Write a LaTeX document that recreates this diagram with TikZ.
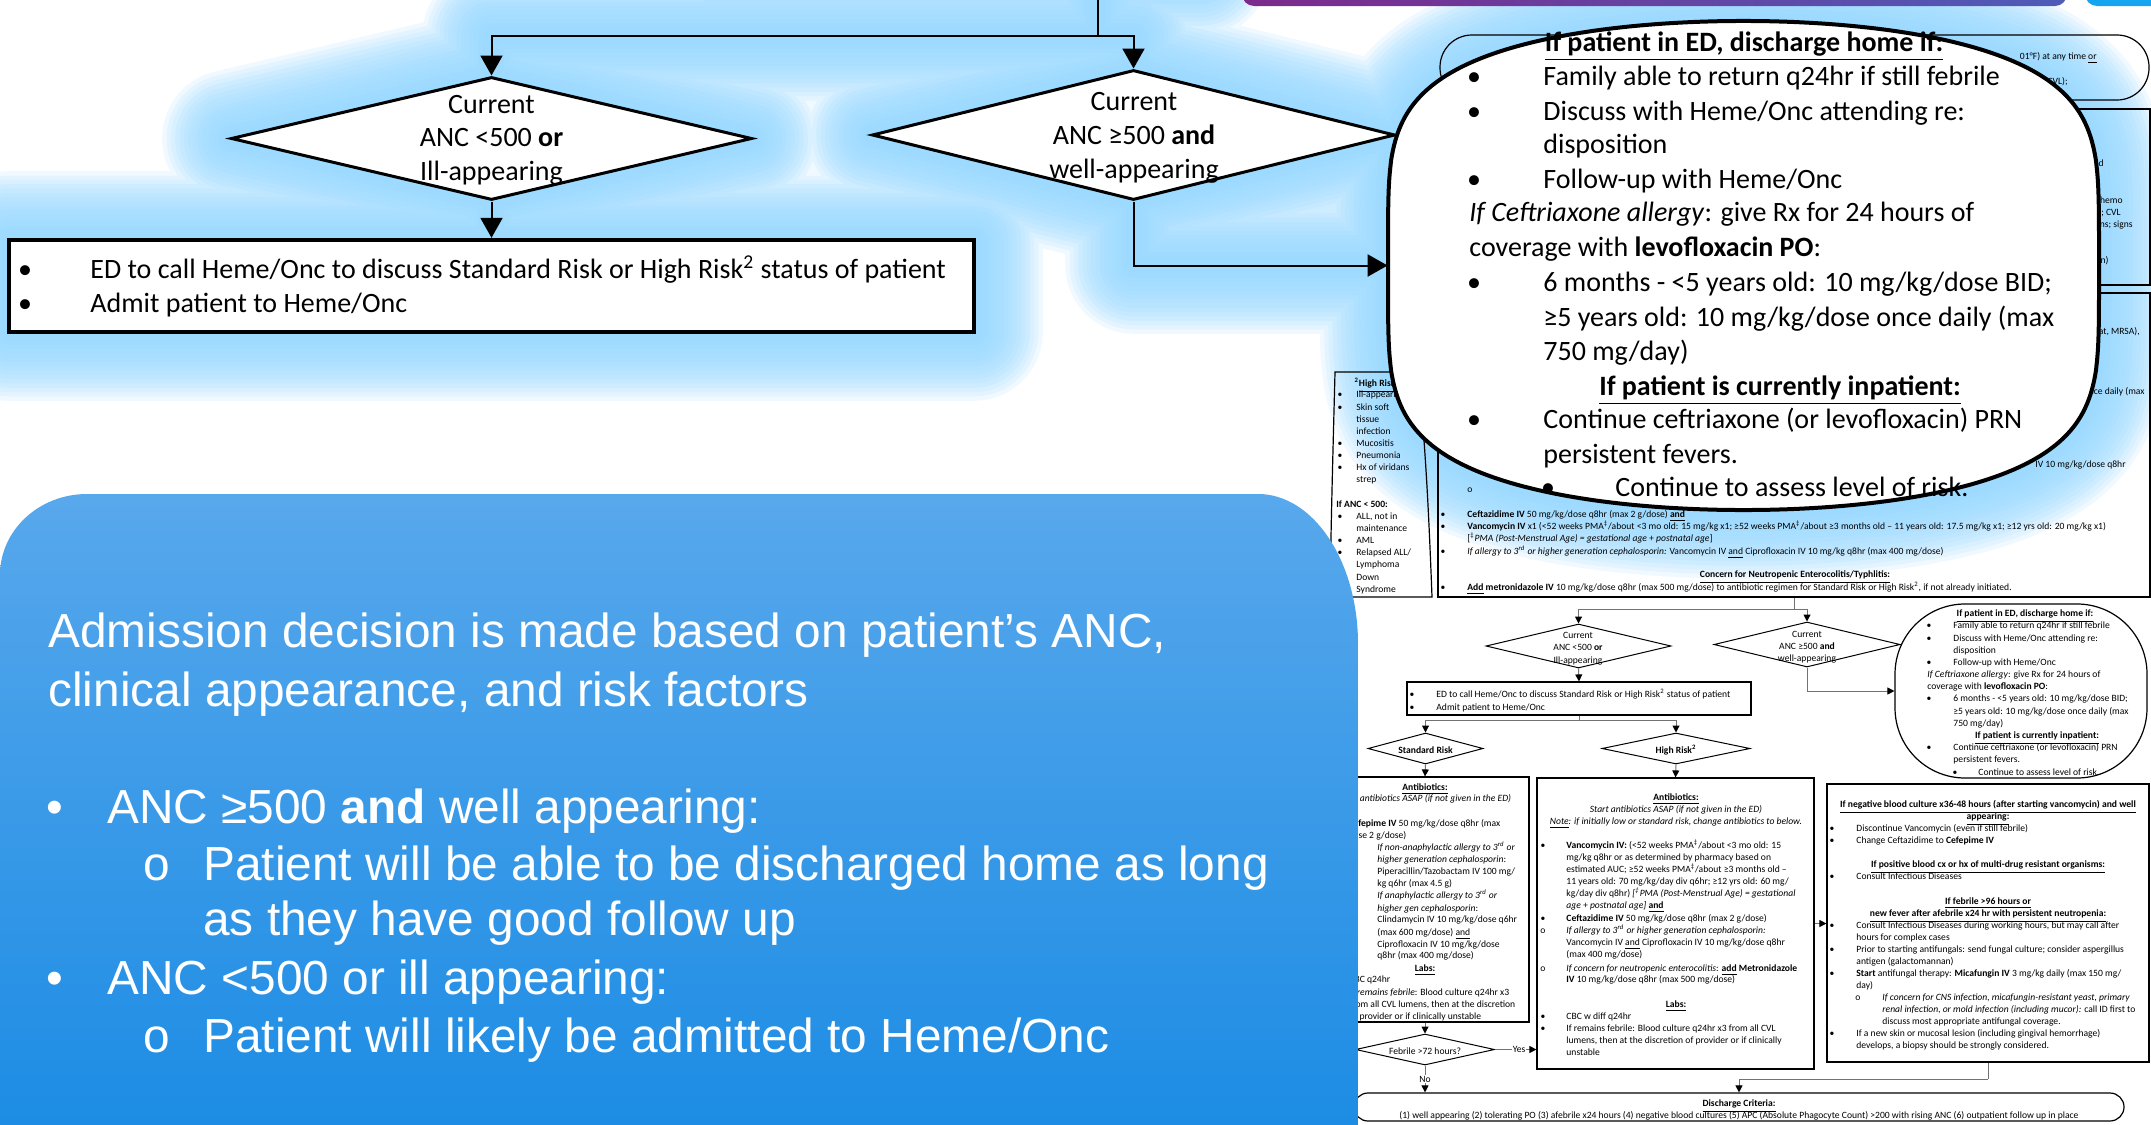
\documentclass[tikz,border=0pt]{standalone}
\usepackage{fontspec}
\setmainfont{Carlito}
\newfontfamily\arialf{Liberation Sans}
\usetikzlibrary{arrows.meta,shapes.geometric,calc}
\definecolor{gl}{RGB}{150,218,255}
\definecolor{bbTop}{RGB}{88,168,236}
\definecolor{bbMid}{RGB}{36,152,240}
\definecolor{bbBot}{RGB}{28,140,228}
\definecolor{barL}{RGB}{124,42,140}
\definecolor{barR}{RGB}{78,92,184}
\definecolor{cyanbar}{RGB}{20,165,240}
\newcounter{tn}
\newcommand\T[3]{\stepcounter{tn}\node[#1] (t\arabic{tn}) at (#2) {#3};}
\newcommand\GE{\iffontchar\font"2265 ≥\else{\arialf ≥}\fi}
\newcommand\DD{\iffontchar\font"2021 ‡\else{\arialf ‡}\fi}
\tikzset{
 bt/.style={inner sep=0pt, anchor=mid west, yshift=-2pt, font=\fontsize{14}{17}\selectfont},
 btc/.style={bt, anchor=mid},
 st/.style={inner sep=0pt, anchor=mid west, font=\fontsize{4.8}{6}\selectfont},
 stc/.style={st, anchor=mid},
 ste/.style={st, anchor=mid east},
 wt/.style={inner sep=0pt, anchor=mid west, yshift=-6pt, text=white, font=\arialf\fontsize{23.9}{28}\selectfont},
 wtc/.style={wt, anchor=mid},
 bigline/.style={line width=1pt, draw=black},
 bigarr/.style={bigline, -{Triangle[length=10pt,width=11pt]}},
 sline/.style={line width=0.5pt, draw=black!55},
 sarr/.style={sline, -{Triangle[length=3.5pt,width=3.5pt,color=black]}},
 bigdia/.style={diamond, draw, line width=1.5pt, fill=white, inner sep=0pt},
 sdia/.style={diamond, draw, line width=0.5pt, inner sep=0pt},
 pbox/.style={rectangle, draw, line width=0.6pt, inner sep=0pt},
}
\begin{document}
\begin{tikzpicture}[x=0.5pt,y=-0.5pt]
\useasboundingbox (0,0) rectangle (2151,1124);
\clip (0,0) rectangle (2151,1124);
\fill[white] (0,0) rectangle (2151,1124);

% ---------- glow ----------
\foreach \i in {1,...,16}{
 \pgfmathsetmacro\gw{4.3*\i}
 \draw[gl, line width=\gw pt, opacity=0.14, line join=round, line cap=round]
   (720,-30) -- (1200,-30)
   (1098,0) -- (1098,36) (491,36) -- (1134,36) (491,36) -- (491,77) (1134,36) -- (1134,70)
   (491.5,77) -- (752,138.5) -- (491.5,200) -- (231,138.5) -- cycle
   (1133.5,70) -- (1395,135) -- (1133.5,200) -- (872,135) -- cycle
   (491,200) -- (491,240)
   (9,240) rectangle (974,332)
   (1134,200) -- (1134,265) -- (1388,265)
   plot[domain=0.5:359.5, samples=120] ({1743.5+355.5*sign(cos(\x))*abs(cos(\x))}, {265.5+244.5*sign(sin(\x))*abs(sin(\x))^(0.42)}) -- cycle;
}

% ---------- background page ----------
\node[pbox, rounded corners=16pt, minimum width=354.5pt, minimum height=32.5pt] (B1) at (1794.5,67.5) {};
\node[pbox, minimum width=356pt, minimum height=88pt] (B2) at (1794,197) {};
\node[pbox, minimum width=356pt, minimum height=152pt] (B3) at (1794,445) {};
\draw[line width=0.6pt] (1335,372) -- (1418,372) .. controls (1426,450) and (1429,520) .. (1432,597) -- (1330,597) .. controls (1331,520) and (1333,450) .. (1335,372) -- cycle;

\T{ste}{2097,55}{01°F) at any time \underline{or}}
\T{ste}{2068,80}{(CVL);}
\T{ste}{2104,162}{blood}
\T{ste}{2123,199}{chemo}
\T{ste}{2121,211}{is; CVL}
\T{ste}{2133,223}{ns; signs}
\T{ste}{2109,259}{n)}
\T{ste}{2140,330}{eat, MRSA),}
\T{ste}{2145,390}{e once daily (max}
\T{ste}{2126,463}{IV 10 mg/kg/dose q8hr}

\T{stc}{1470,488}{o}
\T{stc}{1443,513}{\textbullet}
\T{stc}{1443,525}{\textbullet}
\T{stc}{1443,550}{\textbullet}
\T{stc}{1443,586}{\textbullet}
\T{st}{1467,513}{\textbf{Ceftazidime IV} 50 mg/kg/dose q8hr (max 2 g/dose) \textbf{\underline{and}}}
\T{st}{1467,525}{\textbf{Vancomycin IV} x1 (<52 weeks PMA\textsuperscript{\DD}/about <3 mo old: 15 mg/kg x1; \GE52 weeks PMA\textsuperscript{\DD}/about \GE3 months old – 11 years old: 17.5 mg/kg x1; \GE12 yrs old: 20 mg/kg x1)}
\T{st}{1467,537}{[\textsuperscript{\DD}\textit{PMA (Post-Menstrual Age) = gestational age + postnatal age}]}
\T{st}{1467,550}{\textit{If allergy to 3\textsuperscript{rd} or higher generation cephalosporin:} Vancomycin IV \underline{and} Ciprofloxacin IV 10 mg/kg q8hr (max 400 mg/dose)}
\T{stc}{1795,573}{\textbf{\underline{Concern for Neutropenic Enterocolitis/Typhlitis:}}}
\T{st}{1467,586}{\textbf{\underline{Add} metronidazole IV} 10 mg/kg/dose q8hr (max 500 mg/dose) to antibiotic regimen for Standard Risk or High Risk\textsuperscript{2}, if not already initiated.}

% high risk note
\T{stc}{1375,382}{\textbf{\textsuperscript{2}\underline{High Risk}}}
\foreach \yy in {393,406,442,454,466,515,539,551,576}{\T{stc}{1340,\yy}{\textbullet}}
\T{st}{1356,393}{Ill-appearing}
\T{st}{1356,406}{Skin soft}
\T{st}{1356,418}{tissue}
\T{st}{1356,430}{infection}
\T{st}{1356,442}{Mucositis}
\T{st}{1356,454}{Pneumonia}
\T{st}{1356,466}{Hx of viridans}
\T{st}{1356,478}{strep}
\T{st}{1336,503}{\textbf{If ANC < 500:}}
\T{st}{1356,515}{ALL, not in}
\T{st}{1356,527}{maintenance}
\T{st}{1356,539}{AML}
\T{st}{1356,551}{Relapsed ALL/}
\T{st}{1356,563}{Lymphoma}
\T{st}{1356,576}{Down}
\T{st}{1356,588}{Syndrome}

% small flowchart nodes
\node[sdia, minimum width=92.5pt, minimum height=22pt] (SD1) at (1578.5,646) {};
\node[sdia, minimum width=93pt, minimum height=22.5pt] (SD2) at (1807,644.5) {};
\node[pbox, minimum width=172pt, minimum height=16.5pt] (SEB) at (1579,698.5) {};
\node[pbox, rounded corners=35pt, minimum width=126pt, minimum height=87pt] (SC) at (2021,691) {};
\node[sdia, minimum width=57.5pt, minimum height=15.5pt] (SR) at (1425.5,748.5) {};
\node[sdia, minimum width=74pt, minimum height=15.5pt] (HR) at (1676,748.5) {};
\node[pbox, minimum width=104pt, minimum height=122.5pt] (SB) at (1425,899.5) {};
\node[pbox, minimum width=138.5pt, minimum height=145.5pt] (HB) at (1675.5,923.5) {};
\node[pbox, minimum width=161pt, minimum height=139pt] (RB) at (1988,923) {};
\node[sdia, minimum width=69.5pt, minimum height=15.5pt] (FD) at (1425,1049.5) {};
\node[pbox, rounded corners=7pt, minimum width=385pt, minimum height=14pt] (DC) at (1739,1107) {};

\coordinate (j1) at (1794,609);
\coordinate (j2) at (1579,720);
\coordinate (j3) at (1988,1079);
\draw[sline] (B3.south) -- (j1);
\draw[sarr] (j1) -| (SD1.north);
\draw[sarr] (j1) -| (SD2.north);
\draw[sarr] (SD1.south) -- (SEB.north);
\draw[sarr] (SD2.south) |- (SC.west);
\draw[sline] (SEB.south) -- (j2);
\draw[sarr] (j2) -| (SR.north);
\draw[sarr] (j2) -| (HR.north);
\draw[sarr] (SR.south) -- (SB.north);
\draw[sarr] (HR.south) -- (HB.north);
\draw[sarr] (SB.south) -- (FD.north);
\draw[sarr] (FD.east) -- (FD.east -| HB.west) node[pos=0.58, fill=white, inner sep=0.5pt, font=\fontsize{4.8}{6}\selectfont] (yes) {Yes};
\draw[sarr] (FD.south) -- (FD.south |- DC.north) node[pos=0.5, fill=white, inner sep=0.5pt, font=\fontsize{4.8}{6}\selectfont] (no) {No};
\draw[sarr] (HB.east) -- (HB.east -| RB.west);
\draw[sline] (RB.south) -- (j3);
\draw[sarr] (j3) -| (DC.north);

% small diamonds text
\T{stc}{1578,634}{Current}
\T{stc}{1578,646}{ANC <500 \textbf{or}}
\T{stc}{1578,659}{Ill-appearing}
\T{stc}{1807,633}{Current}
\T{stc}{1807,645}{ANC \GE500 \textbf{and}}
\T{stc}{1807,657}{well-appearing}
\T{stc}{1412,693}{\textbullet}
\T{stc}{1412,706}{\textbullet}
\T{st}{1436,693}{ED to call Heme/Onc to discuss Standard Risk or High Risk\textsuperscript{2} status of patient}
\T{st}{1436,706}{Admit patient to Heme/Onc}
\T{stc}{1425.5,748.5}{\textbf{Standard Risk}}
\T{stc}{1676,748.5}{\textbf{High Risk\textsuperscript{2}}}
\T{stc}{1425,1049.5}{Febrile >72 hours?}

% small circle text
\T{stc}{2025,612}{\textbf{\underline{If patient in ED, discharge home if:}}}
\foreach \yy in {624,637,661,697,746}{\T{stc}{1929,\yy}{\textbullet}}
\T{st}{1953,624}{Family able to return q24hr if still febrile}
\T{st}{1953,637}{Discuss with Heme/Onc attending re:}
\T{st}{1953,649}{disposition}
\T{st}{1953,661}{Follow-up with Heme/Onc}
\T{st}{1927,673}{\textit{If Ceftriaxone allergy}: give Rx for 24 hours of}
\T{st}{1927,685}{coverage with \textbf{levofloxacin PO}:}
\T{st}{1953,697}{6 months - <5 years old: 10 mg/kg/dose BID;}
\T{st}{1953,710}{\GE5 years old: 10 mg/kg/dose once daily (max}
\T{st}{1953,722}{750 mg/day)}
\T{stc}{2037,734}{\textbf{\underline{If patient is currently inpatient:}}}
\T{st}{1953,746}{Continue ceftriaxone (or levofloxacin) PRN}
\T{st}{1953,758}{persistent fevers.}
\T{stc}{1955,771}{\textbullet}
\T{st}{1978,771}{Continue to assess level of risk.}

% standard box text
\T{stc}{1425,786}{\textbf{\underline{Antibiotics:}}}
\T{stc}{1425,797}{\textit{Start antibiotics ASAP (if not given in the ED)}}
\T{st}{1348,822}{\textbf{Cefepime IV} 50 mg/kg/dose q8hr (max}
\T{st}{1348,834}{dose 2 g/dose)}
\T{st}{1377,846}{\textit{If non-anaphylactic allergy to 3\textsuperscript{rd} or}}
\T{st}{1377,858}{\textit{higher generation cephalosporin}:}
\T{st}{1377,870}{Piperacillin/Tazobactam IV 100 mg/}
\T{st}{1377,882}{kg q6hr (max 4.5 g)}
\T{st}{1377,894}{\textit{If anaphylactic allergy to 3\textsuperscript{rd} or}}
\T{st}{1377,907}{\textit{higher gen cephalosporin}:}
\T{st}{1377,918}{Clindamycin IV 10 mg/kg/dose q6hr}
\T{st}{1377,931}{(max 600 mg/dose) \underline{and}}
\T{st}{1377,943}{Ciprofloxacin IV 10 mg/kg/dose}
\T{st}{1377,954}{q8hr (max 400 mg/dose)}
\T{stc}{1425,967}{\textbf{\underline{Labs:}}}
\T{st}{1349,978}{CBC q24hr}
\T{st}{1349,991}{\textit{If remains febrile}: Blood culture q24hr x3}
\T{st}{1349,1003}{from all CVL lumens, then at the discretion}
\T{st}{1349,1015}{of provider or if clinically unstable}

% high risk box text
\T{stc}{1676,796}{\textbf{\underline{Antibiotics:}}}
\T{stc}{1676,808}{\textit{Start antibiotics ASAP (if not given in the ED)}}
\T{stc}{1676,820}{\textit{\underline{Note}: if initially low or standard risk, change antibiotics to below.}}
\foreach \yy in {844,917,1015,1027}{\T{stc}{1543,\yy}{\textbullet}}
\T{stc}{1543,929}{o}
\T{stc}{1543,967}{o}
\T{st}{1566,844}{\textbf{Vancomycin IV:} (<52 weeks PMA\textsuperscript{\DD}/about <3 mo old: 15}
\T{st}{1566,856}{mg/kg q8hr or as determined by pharmacy based on}
\T{st}{1566,868}{estimated AUC; \GE52 weeks PMA\textsuperscript{\DD}/about \GE3 months old –}
\T{st}{1566,880}{11 years old: 70 mg/kg/day div q6hr; \GE12 yrs old: 60 mg/}
\T{st}{1566,892}{kg/day div q8hr) \textit{[\textsuperscript{\DD}PMA (Post-Menstrual Age) = gestational}}
\T{st}{1566,904}{\textit{age + postnatal age]} \textbf{\underline{and}}}
\T{st}{1566,917}{\textbf{Ceftazidime IV} 50 mg/kg/dose q8hr (max 2 g/dose)}
\T{st}{1566,929}{\textit{If allergy to 3\textsuperscript{rd} or higher generation cephalosporin:}}
\T{st}{1566,941}{Vancomycin IV \underline{and} Ciprofloxacin IV 10 mg/kg/dose q8hr}
\T{st}{1566,953}{(max 400 mg/dose)}
\T{st}{1566,967}{\textit{If concern for neutropenic enterocolitis}: \textbf{\underline{add} Metronidazole}}
\T{st}{1566,978}{\textbf{IV} 10 mg/kg/dose q8hr (max 500 mg/dose)}
\T{stc}{1676,1003}{\textbf{\underline{Labs:}}}
\T{st}{1566,1015}{CBC w diff q24hr}
\T{st}{1566,1027}{If remains febrile: Blood culture q24hr x3 from all CVL}
\T{st}{1566,1039}{lumens, then at the discretion of provider or if clinically}
\T{st}{1566,1051}{unstable}

% right box text
\T{stc}{1988,803}{\textbf{\underline{If negative blood culture x36-48 hours (after starting vancomycin) and well}}}
\T{stc}{1988,815}{\textbf{\underline{appearing:}}}
\foreach \yy in {827,839,875,924,948,972,1032}{\T{stc}{1832,\yy}{\textbullet}}
\T{stc}{1858,996}{o}
\T{st}{1856,827}{Discontinue Vancomycin (even if still febrile)}
\T{st}{1856,839}{Change Ceftazidime to \textbf{Cefepime IV}}
\T{stc}{1988,863}{\textbf{\underline{If positive blood cx or hx of multi-drug resistant organisms:}}}
\T{st}{1856,875}{Consult Infectious Diseases}
\T{stc}{1988,900}{\textbf{\underline{If febrile >96 hours or}}}
\T{stc}{1988,912}{\textbf{\underline{new fever after afebrile x24 hr with persistent neutropenia:}}}
\T{st}{1856,924}{Consult Infectious Diseases during working hours, but may call after}
\T{st}{1856,936}{hours for complex cases}
\T{st}{1856,948}{Prior to starting antifungals: send fungal culture; consider aspergillus}
\T{st}{1856,960}{antigen (galactomannan)}
\T{st}{1856,972}{\textbf{Start} antifungal therapy: \textbf{Micafungin IV} 3 mg/kg daily (max 150 mg/}
\T{st}{1856,984}{day)}
\T{st}{1882,996}{\textit{If concern for CNS infection, micafungin-resistant yeast, primary}}
\T{st}{1882,1008}{\textit{renal infection, or mold infection (including mucor):} call ID first to}
\T{st}{1882,1020}{discuss most appropriate antifungal coverage.}
\T{st}{1856,1032}{If a new skin or mucosal lesion (including gingival hemorrhage)}
\T{st}{1856,1044}{develops, a biopsy should be strongly considered.}

% discharge criteria
\T{stc}{1739,1102}{\textbf{\underline{Discharge Criteria:}}}
\T{stc}{1739,1114}{(1) well appearing (2) tolerating PO (3) afebrile x24 hours (4) negative blood cultures (5) APC (Absolute Phagocyte Count) >200 with rising ANC (6) outpatient follow up in place}

% ---------- foreground big flowchart ----------
\node[bigdia, minimum width=260.5pt, minimum height=61.5pt] (D1) at (491.5,138.5) {};
\node[bigdia, minimum width=261.5pt, minimum height=65pt] (D2) at (1133.5,135) {};
\node[rectangle, draw, fill=white, line width=2.2pt, inner sep=0pt, minimum width=482.5pt, minimum height=46pt] (EDB) at (491.5,286) {};
\node[rectangle, inner sep=0pt, minimum width=355.5pt, minimum height=244.5pt] (C1) at (1743.5,265.5) {};
\draw[fill=white, line width=2pt, line join=round]
  plot[domain=0.5:359.5, samples=360] ({1743.5+355.5*sign(cos(\x))*abs(cos(\x))}, {265.5+244.5*sign(sin(\x))*abs(sin(\x))^(0.42)}) -- cycle;
\coordinate (topin) at (1098,0);
\coordinate (split) at (1098,36);
\draw[bigline] (topin) -- (split);
\draw[bigarr] (split) -| (D1.north);
\draw[bigarr] (split) -| (D2.north);
\draw[bigarr] (D1.south) -- (EDB.north);
\draw[bigarr] (D2.south) |- (C1.west);

\T{btc}{491.5,105}{Current}
\T{btc}{491.5,138}{ANC <500 \textbf{or}}
\T{btc}{491.5,172}{Ill-appearing}
\T{btc}{1134,102}{Current}
\T{btc}{1134,136}{ANC \GE500 \textbf{and}}
\T{btc}{1134,170}{well-appearing}
\T{btc}{25,270}{\textbullet}
\T{btc}{25,304}{\textbullet}
\T{bt}{90,270}{ED to call Heme/Onc to discuss Standard Risk or High Risk\textsuperscript{2} status of patient}
\T{bt}{90,304}{Admit patient to Heme/Onc}

\T{btc}{1744,43}{\textbf{\underline{If patient in ED, discharge home if:}}}
\foreach \yy in {77,112,180,283,420}{\T{btc}{1474,\yy}{\textbullet}}
\T{bt}{1543,77}{Family able to return q24hr if still febrile}
\T{bt}{1543,112}{Discuss with Heme/Onc attending re:}
\T{bt}{1543,145}{disposition}
\T{bt}{1543,180}{Follow-up with Heme/Onc}
\T{bt}{1469,213}{\textit{If Ceftriaxone allergy}: give Rx for 24 hours of}
\T{bt}{1469,248}{coverage with \textbf{levofloxacin PO}:}
\T{bt}{1543,283}{6 months - <5 years old: 10 mg/kg/dose BID;}
\T{bt}{1543,318}{\GE5 years old: 10 mg/kg/dose once daily (max}
\T{bt}{1543,352}{750 mg/day)}
\T{btc}{1780,387}{\textbf{\underline{If patient is currently inpatient:}}}
\T{bt}{1543,420}{Continue ceftriaxone (or levofloxacin) PRN}
\T{bt}{1543,455}{persistent fevers.}
\T{btc}{1548,488}{\textbullet}
\T{bt}{1615,488}{Continue to assess level of risk.}

% ---------- blue box ----------
\shade[top color=bbTop, middle color=bbMid, bottom color=bbBot]
  (0,1130) -- (0,575) arc[start angle=180, end angle=270, x radius=87, y radius=81]
  -- (1258,494) arc[start angle=270, end angle=360, x radius=100, y radius=150]
  -- (1358,1130) -- cycle;
\T{wt}{48,631}{Admission decision is made based on patient’s ANC,}
\T{wt}{48,690}{clinical appearance, and risk factors}
\T{wtc}{55,807}{\textbullet}
\T{wt}{107,807}{ANC ≥500 \textbf{and} well appearing:}
\T{wtc}{157,864}{o}
\T{wt}{203,864}{Patient will be able to be discharged home as long}
\T{wt}{203,919}{as they have good follow up}
\T{wtc}{55,978}{\textbullet}
\T{wt}{107,978}{ANC <500 or ill appearing:}
\T{wtc}{157,1036}{o}
\T{wt}{203,1036}{Patient will likely be admitted to Heme/Onc}

% ---------- top bars ----------
\shade[left color=barL, right color=barR, rounded corners=6pt] (1242,-30) rectangle (2067,6);
\fill[cyanbar, rounded corners=6pt] (2085,-30) rectangle (2200,6);
\end{tikzpicture}
\end{document}
